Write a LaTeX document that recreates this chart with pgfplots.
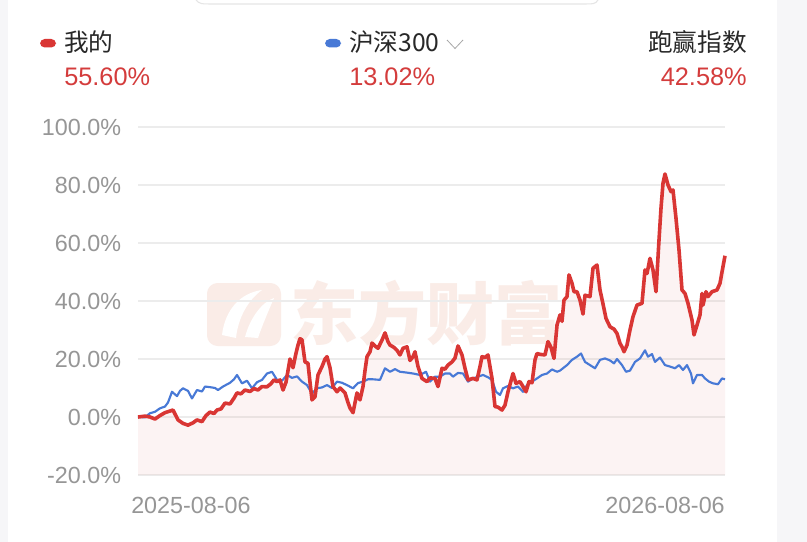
\documentclass[border=0pt]{standalone}
\usepackage{fontspec}
\setmainfont{Liberation Sans}
\newfontfamily\cjk{Noto Sans CJK SC}
\usepackage{pgfplots}
\usepackage{pgfplotstable}
\pgfplotsset{compat=1.18}
\definecolor{myred}{RGB}{217,54,52}
\definecolor{myblue}{RGB}{72,121,214}
\definecolor{tickgray}{RGB}{150,150,150}
\definecolor{darktext}{RGB}{40,40,40}
\definecolor{pcred}{RGB}{212,60,60}
\definecolor{wm}{RGB}{250,236,231}
\definecolor{gridc}{RGB}{236,236,236}
\definecolor{band}{RGB}{246,246,248}

% x = horizontal position (screen px, 138 = 2025-08-06, 725 = 2026-08-06), y = return in %
\pgfplotstableread{
px pct
138 0
145 0.3
150 0
155 -0.7
160 0.5
165 1.5
173 2.4
178 -1
183 -2.2
188 -2.8
193 -2
197 -1
202 -1.6
206 0.5
210 1.7
214 1.2
217 2.4
221 2.8
225 4.8
230 4.5
234 6.5
237 8.3
241 8.0
245 9.3
250 8.8
254 9.8
258 9.3
262 10.5
267 10.4
271 11.5
274 12.8
277 12.2
280 12.8
283 9.3
286 12
290 20
293 17
296 22
298 24.8
300 27
302 26.6
305 19
308 18.5
310 12
312 5.9
315 7
318 14.5
322 17.4
325 20
327 20.8
330 17
333 10.5
337 8.7
340 10
343 9
345 8.3
348 5
350 3.1
353 1.5
357 8.3
360 5.9
363 10.5
365 16
367 20.8
370 22.5
372 25.5
375 24.5
378 23.7
382 26.5
385 29
388 26
390 24.8
394 24
397 23
400 21.4
403 23.7
407 24.2
410 19.5
413 20.8
415 22.5
418 17.4
422 13.3
427 12.2
430 13.5
435 13.3
438 10.5
442 16.8
445 16.5
448 17.9
452 19
455 20.3
458 24.5
462 21.4
465 16.8
468 12.8
473 13.3
477 12.8
480 17.4
482 20.8
485 20.5
488 21.4
492 13.3
495 3.6
498 3.4
502 2.4
505 4.1
508 8.7
513 15
516 11.6
520 12.2
523 10.5
526 8.7
529 12.2
532 11.8
535 19.7
537 21.9
540 21.6
545 21.4
548 26
551 24
554 20.2
557 31.7
560 35.2
562 33
564 40.3
567 41.5
569 49
572 46.1
574 43.2
577 43.2
580 40.3
583 35.5
585 42
590 41.5
593 51.3
597 52.4
600 43.8
603 39
606 34
610 31.1
614 30.3
617 28.8
620 25.4
622 24.2
624 22.5
627 24.8
630 30
633 34.6
637 38.6
642 39.2
645 50.7
647 49.5
650 54.7
653 50.7
656 43.2
659 61
661 72
663 80.6
665 83.8
668 80
671 77.7
673 78.3
676 68.5
679 57.6
682 43.8
685 42.6
688 39.2
692 33.4
694 28.3
697 31.7
700 35.2
702 42.6
703 38.6
706 43.2
708 41.5
712 43.2
717 43.8
720 46.1
722 50
725 55.6
}\mine

\pgfplotstableread{
px pct
138 0
145 -0.1
150 1.3
155 1.8
160 3
165 3.6
168 5
172 8.7
177 7.2
180 9
183 9.9
188 9
192 6.4
197 9.3
202 8.8
205 10.5
210 10.3
215 10
218 9.3
223 10.5
230 11.8
234 13
237 14.5
242 11.6
247 12.5
252 9.9
257 12
262 12.8
267 15
272 15.6
277 12.8
282 12.5
287 14.5
292 13.5
297 14
302 12.2
307 11
312 8.1
317 9.9
322 10.2
327 11
332 10
337 12.2
342 11.8
347 11
353 9.9
358 11.7
363 12.2
368 13
373 13
380 12.8
385 16.8
390 15.6
395 16.5
400 15.6
407 15.3
413 15
420 14.5
426 15.6
430 12.2
435 13.9
440 13.9
445 15
450 15
453 13.9
458 15.2
463 15
468 12.2
473 13.3
478 13.9
483 14.5
488 13.7
492 12.8
496 8.7
500 7.6
503 9.9
508 10.7
513 9.9
518 10.5
523 8.7
527 11
532 12.2
537 13.3
542 14.5
547 15
552 16.4
557 15.6
560 16
567 17.9
572 19.7
577 20.8
581 21.9
585 19
590 17.9
595 16.8
600 19.7
605 20.2
610 19.5
614 18.5
617 20
622 17.9
626 15.6
630 16
635 19
640 20.2
645 23
648 20.8
652 21.7
655 19
660 20.5
665 17.9
670 17.4
675 16.8
679 17.9
683 16.2
687 17.9
691 15
693 11.6
697 14.5
702 14.5
705 13.3
709 12.2
713 11.6
718 11.3
722 13.3
725 13.0
}\hs

\begin{document}
\begin{tikzpicture}
\begin{scope}[x=0.75pt,y=-0.75pt]
  \path[use as bounding box] (0,0) rectangle (807,542);
  \fill[white] (0,0) rectangle (807,542);
  \fill[band] (777,0) rectangle (807,542);
  \fill[band] (0,0) rectangle (8,542);
  \draw[gray!20, line width=0.8pt] (196,0) .. controls (200,4) .. (215,4) -- (580,4) .. controls (595,4) .. (598,0);
  % header
  \fill[myred, rounded corners=3.5pt] (40,39) rectangle (56,47.5);
  \node[anchor=west, inner sep=0pt, text=darktext] at (64,42) {\fontsize{18.5pt}{20pt}\selectfont\cjk 我的};
  \node[anchor=west, inner sep=0pt, text=pcred] at (64,77) {\fontsize{19pt}{20pt}\selectfont 55.60\%};
  \fill[myblue, rounded corners=3.5pt] (325,39) rectangle (341,47.5);
  \node[anchor=west, inner sep=0pt, text=darktext] at (349,42) {\fontsize{18.5pt}{20pt}\selectfont\cjk 沪深300};
  \draw[gray!70, line width=0.6pt] (447,40) -- (455,48.5) -- (463,40);
  \node[anchor=west, inner sep=0pt, text=pcred] at (349,77) {\fontsize{19pt}{20pt}\selectfont 13.02\%};
  \node[anchor=east, inner sep=0pt, text=darktext] at (747,42) {\fontsize{18.5pt}{20pt}\selectfont\cjk 跑赢指数};
  \node[anchor=east, inner sep=0pt, text=pcred] at (747,77) {\fontsize{19pt}{20pt}\selectfont 42.58\%};
  % watermark
  \fill[wm, rounded corners=8pt] (207,283) rectangle (281,346);
  \fill[white] (222,335) .. controls (225,310) and (240,293) .. (262,290) .. controls (248,300) and (238,318) .. (236,338) -- cycle;
  \fill[white] (245,337) .. controls (250,318) and (262,302) .. (274,298) .. controls (268,312) and (262,326) .. (258,338) -- cycle;
  \node[anchor=west, inner sep=0pt, text=wm] at (290,313) {\fontsize{51pt}{52pt}\selectfont\cjk\bfseries 东方财富};
  % dates
  \node[anchor=west, inner sep=0pt, text=tickgray] at (131,505) {\fontsize{17.5pt}{18pt}\selectfont 2025-08-06};
  \node[anchor=east, inner sep=0pt, text=tickgray] at (725,505) {\fontsize{17.5pt}{18pt}\selectfont 2026-08-06};
\end{scope}
\begin{axis}[
  at={(103.5pt,-356.25pt)}, anchor=south west,
  scale only axis, width=440.25pt, height=261pt,
  xmin=138, xmax=725, ymin=-20, ymax=100,
  axis line style={draw=none},
  major tick length=0pt,
  xtick=\empty,
  ytick={-20,0,20,40,60,80,100},
  ymajorgrids, grid style={gridc, line width=0.8pt},
  /pgf/number format/assume math mode=true,
  yticklabel={\pgfmathprintnumber[fixed,fixed zerofill,precision=1]{\tick}\%},
  yticklabel style={text=tickgray, font=\fontsize{17.5pt}{18pt}\selectfont, inner sep=0pt, anchor=east, xshift=-12.5pt},
  clip=false,
]
\addplot[fill=myred, fill opacity=0.055, draw=none, forget plot] table[x=px,y=pct] {\mine} -- (axis cs:725,-20) -- (axis cs:138,-20) -- cycle;
\addplot[myblue, line width=1.6pt, line join=round] table[x=px,y=pct] {\hs};
\addplot[myred, line width=2.7pt, line join=round] table[x=px,y=pct] {\mine};
\end{axis}
\end{tikzpicture}
\end{document}
